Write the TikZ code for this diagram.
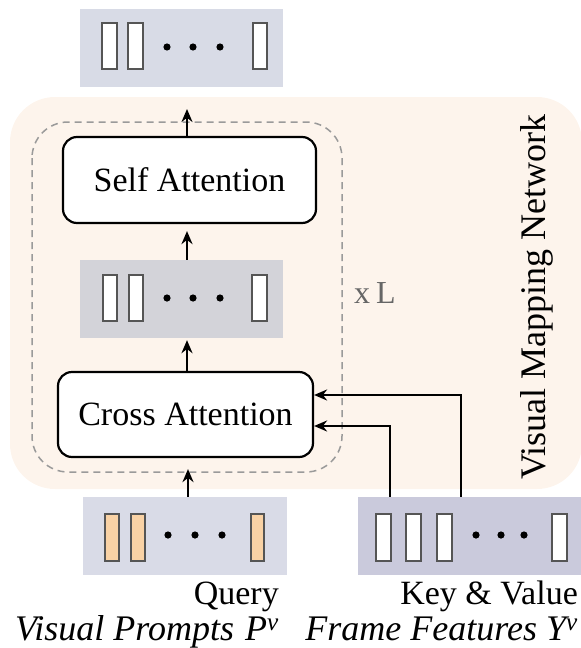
\documentclass[tikz,border=0pt]{standalone}
\usepackage{fontspec}
\setmainfont{Liberation Serif}
\usetikzlibrary{arrows.meta,calc}
\definecolor{peach}{HTML}{FDF4EC}
\definecolor{topgray}{HTML}{D8DBE6}
\definecolor{midgray}{HTML}{D3D3D9}
\definecolor{qgray}{HTML}{D9DBE7}
\definecolor{fgray}{HTML}{CACADC}
\definecolor{orangebar}{HTML}{F9D2A5}
\definecolor{bardraw}{HTML}{555555}
\definecolor{dashgray}{HTML}{9A9A9A}
\tikzset{
  panel/.style={draw=none,inner sep=0pt,minimum height=78pt},
  attbox/.style={draw=black,line width=2.2pt,rounded corners=14pt,fill=white,inner sep=0pt,
    font=\fontsize{34}{40}\selectfont},
  bar/.style={draw=bardraw,line width=1.6pt,fill=white},
  obar/.style={draw=bardraw,line width=1.6pt,fill=orangebar},
  arr/.style={line width=2.4pt,-{Stealth[length=13pt,width=11pt]}},
  lbl/.style={inner sep=0pt,font=\fontsize{34}{37}\selectfont},
}
\begin{document}
\begin{tikzpicture}[x=1pt,y=-1pt]
\useasboundingbox (0,0) rectangle (581,648);
% background
\fill[peach,rounded corners=45pt] (10,97) rectangle (582,489);
\draw[dashgray,line width=1.5pt,dash pattern=on 7pt off 5pt,rounded corners=36pt] (32,122) rectangle (342,472);
% panels
\node[panel,fill=topgray,minimum width=203pt] (top) at (181.5,47.5) {};
\node[panel,fill=midgray,minimum width=203pt] (mid) at (181.5,299) {};
\node[panel,fill=qgray,minimum width=204pt] (query) at (185,536) {};
\node[panel,fill=fgray,minimum width=224pt] (frame) at (470,536) {};
% bars top
\draw[bar] (102,23) rectangle (117,69);
\draw[bar] (128,23) rectangle (143,69);
\draw[bar] (253,23) rectangle (267,69);
\foreach \x in {167,193,220} \fill (\x,47) circle (3.6pt);
% bars mid
\draw[bar] (103,275) rectangle (117,321);
\draw[bar] (129,275) rectangle (143,321);
\draw[bar] (252,275) rectangle (267,321);
\foreach \x in {167,193,220} \fill (\x,298) circle (3.6pt);
% bars query
\draw[obar] (105,514) rectangle (119,561);
\draw[obar] (131,514) rectangle (145,561);
\draw[obar] (251,514) rectangle (264,561);
\foreach \x in {168,195,222} \fill (\x,535) circle (3.6pt);
% bars frame
\draw[bar] (376,514) rectangle (391,561);
\draw[bar] (406,514) rectangle (421,561);
\draw[bar] (437,514) rectangle (452,561);
\draw[bar] (552,514) rectangle (567,561);
\foreach \x in {476,501,524} \fill (\x,535) circle (3.6pt);
% attention boxes
\node[attbox,minimum width=253pt,minimum height=86pt] (sa) at (189.5,180) {Self Attention};
\node[attbox,minimum width=255pt,minimum height=85pt] (ca) at (185.5,414.5) {Cross Attention};
% labels
\node[lbl,text=black!60,font=\fontsize{32}{36}\selectfont] (xl) at (375,293) {x\hspace{6pt}L};
\node[lbl,rotate=90,font=\fontsize{36}{40}\selectfont] (vmn) at (537,297) {Visual Mapping Network};
\node[lbl,anchor=base east,align=right] (ql) at (279,640)
  {Query\\[-1pt]{\fontsize{36}{37}\selectfont\itshape Visual Prompts \hspace{2pt}P\textsuperscript{v}}};
\node[lbl,anchor=base east,align=right] (kv) at (578,640)
  {Key \& Value\\[-1pt]{\fontsize{36}{37}\selectfont\itshape Frame Features Y\textsuperscript{v}}};
% arrows
\coordinate (ax) at (187,0);
\coordinate (topend) at (187,109);
\draw[arr] (ax |- sa.north) -- (topend);
\draw[arr,shorten >=7pt] (ax |- mid.north) -- (ax |- sa.south);
\draw[arr,shorten >=2pt] (ax |- ca.north) -- (ax |- mid.south);
\coordinate (qx) at (188,0);
\draw[arr,shorten >=11pt] (qx |- query.north) -- (qx |- ca.south);
\coordinate (k1) at (461,395);
\coordinate (k2) at (390,426);
\draw[arr] (k1 |- frame.north) -- (k1) -- (k1 -| ca.east);
\draw[arr] (k2 |- frame.north) -- (k2) -- (k2 -| ca.east);
\end{tikzpicture}
\end{document}
